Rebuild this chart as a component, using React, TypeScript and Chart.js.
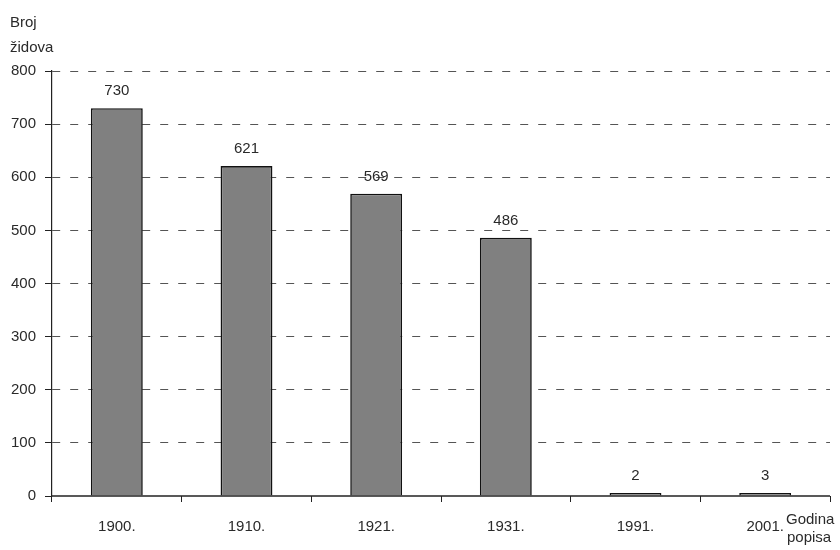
import React, { useEffect, useRef } from "react";
import { Chart, registerables } from "chart.js";

Chart.register(...registerables);

const categories = ["1900.", "1910.", "1921.", "1931.", "1991.", "2001."];
const jewsCount = [730, 621, 569, 486, 2, 3];
const yTicks = [0, 100, 200, 300, 400, 500, 600, 700, 800];
const yTitle = ["Broj", "židova"];
const xTitle = ["Godina", "popisa"];

const FONT = "'Liberation Sans', Arial, sans-serif";
const TEXT = "#2a2a2a";

const labelsPlugin = {
  id: "labelsPlugin",
  afterDatasetsDraw(chart: any) {
    const ctx = chart.ctx;
    const meta = chart.getDatasetMeta(0);
    const area = chart.chartArea;
    ctx.save();
    // baseline axis
    ctx.strokeStyle = "#222";
    ctx.lineWidth = 1.3;
    ctx.beginPath();
    ctx.moveTo(area.left, area.bottom);
    ctx.lineTo(area.right, area.bottom);
    ctx.stroke();

    ctx.font = `15px ${FONT}`;
    ctx.fillStyle = TEXT;
    ctx.textAlign = "center";
    ctx.textBaseline = "alphabetic";
    meta.data.forEach((el: any, i: number) => {
      ctx.fillText(String(jewsCount[i]), el.x, el.y - 13);
    });
    // y-axis title
    ctx.textAlign = "left";
    ctx.fillText(yTitle[0], 10, 27);
    ctx.fillText(yTitle[1], 10, 52);
    // x-axis title
    ctx.fillText(xTitle[0], 786, 524);
    ctx.fillText(xTitle[1], 787, 542);
    ctx.restore();
  },
};

export default function App() {
  const ref = useRef<HTMLCanvasElement | null>(null);
  useEffect(() => {
    document.body.style.margin = "0";
    const chart = new Chart(ref.current!, {
      type: "bar",
      data: {
        labels: categories,
        datasets: [
          {
            data: jewsCount,
            backgroundColor: "#808080",
            borderColor: "#111",
            borderWidth: 1.6,
            minBarLength: 3,
            barPercentage: 0.4,
            categoryPercentage: 1,
          },
        ],
      },
      options: {
        animation: false,
        responsive: false,
        devicePixelRatio: 1,
        layout: { padding: { top: 71, right: 10, left: 0, bottom: 0 } },
        plugins: { legend: { display: false }, tooltip: { enabled: false } },
        scales: {
          x: {
            grid: {
              display: true,
              drawOnChartArea: false,
              drawTicks: true,
              tickLength: 6,
              tickColor: "#222",
              offset: true,
            },
            border: { display: false },
            ticks: {
              padding: 16,
              font: { family: FONT, size: 15 },
              color: TEXT,
            },
            afterFit(scale: any) {
              scale.height = 54;
            },
          },
          y: {
            min: 0,
            max: 800,
            afterBuildTicks(scale: any) {
              scale.ticks = yTicks.map((v) => ({ value: v }));
            },
            grid: {
              color: (c: any) => (c.tick && c.tick.value === 0 ? "rgba(0,0,0,0)" : "#555"),
              lineWidth: 1,
              drawTicks: true,
              tickLength: 7,
              tickColor: "#222",
              tickBorderDash: [],
            },
            border: { display: true, color: "#222", width: 1.2, dash: [8, 10] } as any,
            ticks: {
              padding: 9,
              font: { family: FONT, size: 15 },
              color: TEXT,
            },
            afterFit(scale: any) {
              scale.width = 52;
            },
          },
        },
      },
      plugins: [labelsPlugin],
    });
    return () => chart.destroy();
  }, []);
  return <canvas ref={ref} width={840} height={550} style={{ display: "block" }} />;
}
